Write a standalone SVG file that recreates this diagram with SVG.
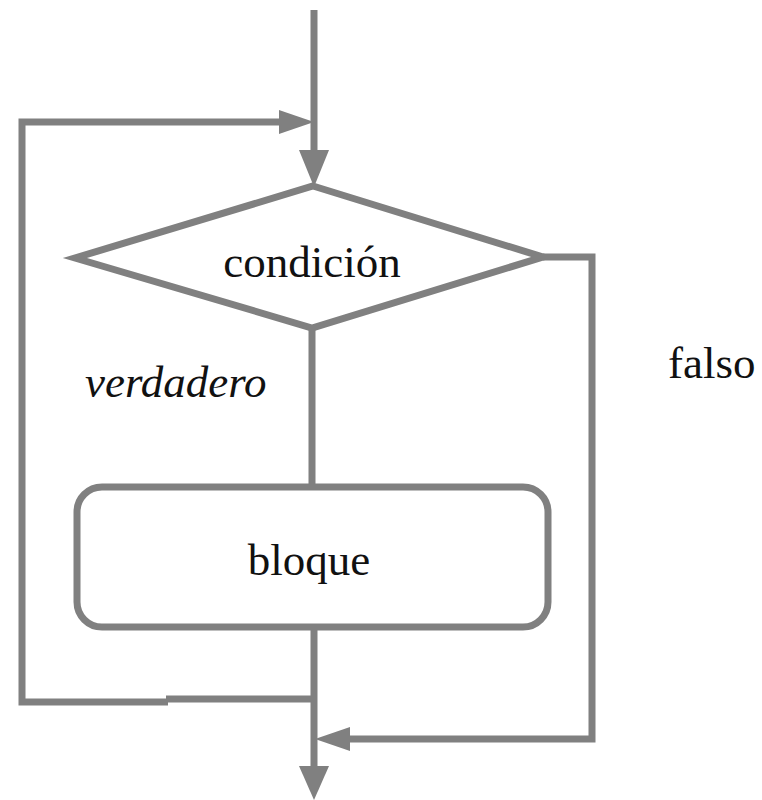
<svg xmlns="http://www.w3.org/2000/svg" width="762" height="800" viewBox="0 0 762 800">
<style>
.ln{fill:none;stroke:#808080;stroke-width:7;stroke-linejoin:miter;stroke-linecap:butt}
.shape{fill:#fff;stroke:#808080;stroke-width:7}
.ah{fill:#808080;stroke:none}
.t{font-family:"Liberation Serif","Times New Roman",serif;font-size:45px;fill:#111}
</style>
<rect width="762" height="800" fill="#fff"/>
<g id="connectors">
<line class="ln" x1="314" y1="10" x2="314" y2="155"/>
<polygon class="ah" points="299,150 329,150 314,187"/>
<polyline class="ln" points="168,702 22,702 22,122 285,122"/>
<polygon class="ah" points="279,110 279,134 314,122"/>
<line class="ln" x1="312" y1="328" x2="312" y2="486"/>
<line class="ln" x1="314" y1="628" x2="314" y2="770"/>
<polygon class="ah" points="299,766 329,766 314,800"/>
<line class="ln" x1="166" y1="699" x2="314" y2="699"/>
<polyline class="ln" points="543,257 592,257 592,739 345,739"/>
<polygon class="ah" points="350,727 350,751 315,739"/>
</g>
<g id="condicion">
<polygon class="shape" points="313,186 543,257 312,328 75,258"/>
<text class="t" x="312" y="277" text-anchor="middle">condición</text>
</g>
<g id="bloque">
<rect class="shape" x="77" y="487" width="471" height="140" rx="25" ry="25"/>
<text class="t" x="309" y="575" text-anchor="middle">bloque</text>
</g>
<g id="labels">
<text class="t" x="85" y="397" font-style="italic">verdadero</text>
<text class="t" x="668" y="378">falso</text>
</g>
</svg>
